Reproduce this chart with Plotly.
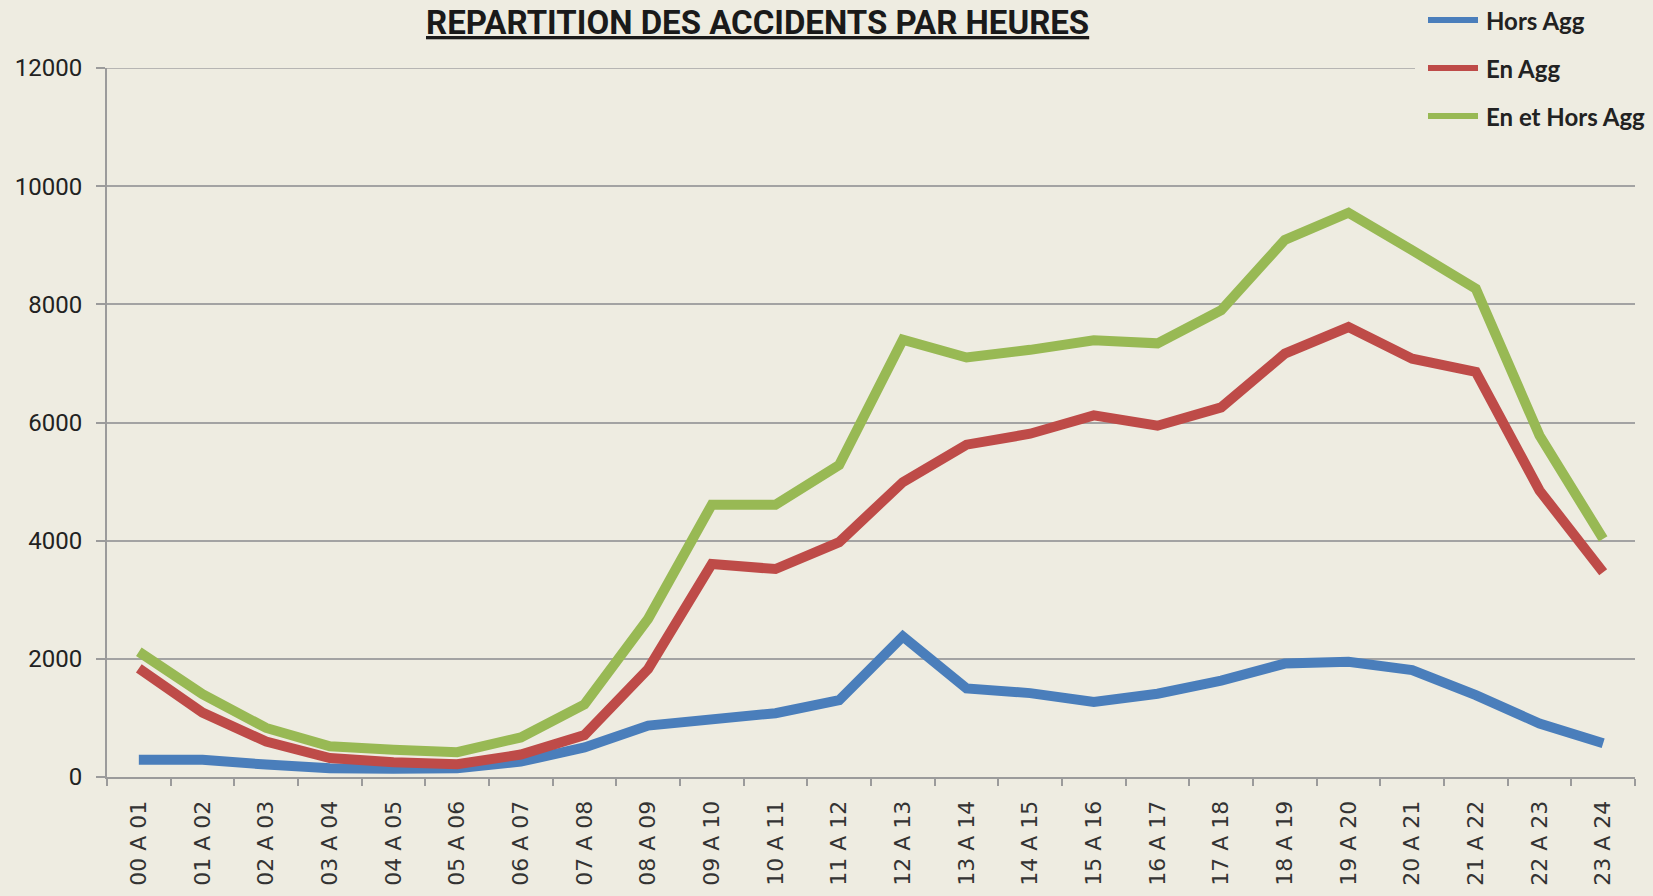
import plotly.graph_objects as go

categories = ["00 A 01", "01 A 02", "02 A 03", "03 A 04", "04 A 05", "05 A 06",
              "06 A 07", "07 A 08", "08 A 09", "09 A 10", "10 A 11", "11 A 12",
              "12 A 13", "13 A 14", "14 A 15", "15 A 16", "16 A 17", "17 A 18",
              "18 A 19", "19 A 20", "20 A 21", "21 A 22", "22 A 23", "23 A 24"]

hors_agg = [290, 290, 210, 150, 140, 150, 260, 500, 870, 995, 1080, 1300,
            2380, 1500, 1420, 1270, 1410, 1630, 1920, 1950, 1810, 1385, 905, 570]
en_agg = [1840, 1090, 600, 320, 250, 215, 380, 710, 1830, 3605, 3520, 3975,
          4990, 5625, 5810, 6120, 5945, 6255, 7165, 7615, 7080, 6855, 4850, 3465]
en_et_hors = [2120, 1400, 830, 520, 460, 420, 670, 1230, 2680, 4610, 4610, 5280,
              7400, 7100, 7230, 7390, 7340, 7900, 9090, 9550, 8915, 8265, 5780, 4030]

series_names = ["Hors Agg", "En Agg", "En et Hors Agg"]
series_values = [hors_agg, en_agg, en_et_hors]
series_colors = ["#4A7EBB", "#BE4B48", "#98B954"]

y_ticks = [0, 2000, 4000, 6000, 8000, 10000, 12000]
y_tick_labels = ["0", "2000", "4000", "6000", "8000", "10000", "12000"]

BG = "#EEECE1"
GRID = "#A3A3A3"
W, H = 1653, 896
ML, MR, MT, MB = 107, 18, 68, 119
PW = W - ML - MR
PH = H - MT - MB


def px_x(px):
    return (px - ML) / PW


def px_y(py):
    return 1 - (py - MT) / PH


fig = go.Figure()
for name, vals, col in zip(series_names, series_values, series_colors):
    fig.add_trace(go.Scatter(
        x=categories, y=vals, name=name, mode="lines",
        line=dict(color=col, width=10), showlegend=False,
    ))

# top gridline (stops before the legend)
fig.add_shape(type="line", xref="paper", yref="y",
              x0=0, x1=px_x(1415), y0=y_ticks[-1], y1=y_ticks[-1],
              line=dict(color=GRID, width=1.5), layer="between")

# manual legend
legend_y = [20, 68, 116]
for name, col, ly in zip(series_names, series_colors, legend_y):
    fig.add_shape(type="line", xref="paper", yref="paper",
                  x0=px_x(1428), x1=px_x(1478), y0=px_y(ly), y1=px_y(ly),
                  line=dict(color=col, width=6), layer="above")
    fig.add_annotation(xref="paper", yref="paper", x=px_x(1484), y=px_y(ly),
                       xanchor="left", yanchor="middle", showarrow=False,
                       text="<b>%s</b>" % name,
                       font=dict(family="Lato, Open Sans, sans-serif", size=24, color="#222222"))

fig.add_annotation(xref="paper", yref="paper", x=px_x(757), y=px_y(22),
                   xanchor="center", yanchor="middle", showarrow=False,
                   text="<u><b>REPARTITION DES ACCIDENTS PAR HEURES</b></u>",
                   font=dict(family="Roboto, sans-serif", size=33, color="#1a1a1a"))

fig.update_layout(
    width=W, height=H,
    margin=dict(l=ML, r=MR, t=MT, b=MB, pad=0, autoexpand=False),
    paper_bgcolor=BG, plot_bgcolor=BG,
    showlegend=False,
    xaxis=dict(
        type="category", range=[-0.5, 23.5], automargin=False,
        tickangle=-90, ticks="outside", tickson="boundaries", ticklen=7,
        tickcolor="#9B9B9B", tickwidth=2,
        showline=True, linecolor="#9B9B9B", linewidth=2,
        showgrid=False, zeroline=False,
        tickfont=dict(family="DejaVu Sans", size=22, color="#333333"),
        ticklabelstandoff=13,
    ),
    yaxis=dict(
        range=[0, 12000], tickvals=y_ticks, ticktext=y_tick_labels,
        automargin=False,
        ticks="outside", ticklen=9, tickcolor="#9B9B9B", tickwidth=2,
        showline=True, linecolor="#9B9B9B", linewidth=2,
        showgrid=True, gridcolor=GRID, gridwidth=1.5,
        zeroline=False,
        tickfont=dict(family="Roboto", size=24, color="#222222"),
        ticklabelstandoff=9,
    ),
)

fig.write_html("out.html",
               config={"displayModeBar": False},
               post_script="document.body.style.margin='0';document.body.style.padding='0';")
